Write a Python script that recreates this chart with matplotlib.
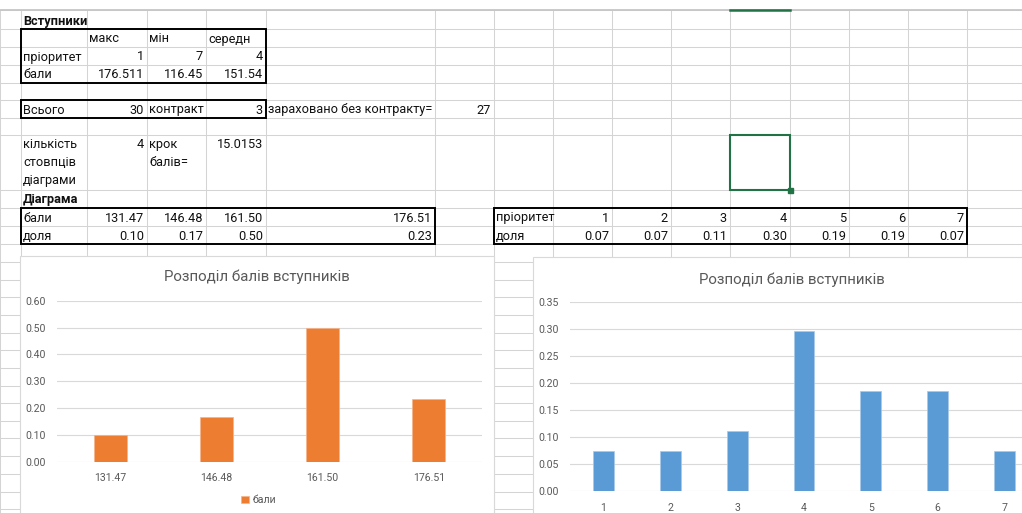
import matplotlib
matplotlib.use("Agg")
import matplotlib.pyplot as plt
from matplotlib.patches import Rectangle

plt.rcParams["font.family"] = ["Roboto", "DejaVu Sans"]

# ---- data ----
score_bins = ["131.47", "146.48", "161.50", "176.51"]
score_share = [0.10, 0.167, 0.50, 0.233]

priorities = [1, 2, 3, 4, 5, 6, 7]
priority_share = [0.074, 0.074, 0.111, 0.296, 0.1852, 0.1852, 0.074]

stat_names = ["макс", "мін", "середн"]
stat_priority = ["1", "7", "4"]
stat_scores = ["176.511", "116.45", "151.54"]

total_count = "30"
contract_count = "3"
budget_count = "27"
n_bins = "4"
bin_step = "15.0153"

CHART_TITLE = "Розподіл балів вступників"
ORANGE = "#ED7D31"
BLUE = "#5B9BD5"
AXIS_GREY = "#595959"
GRID_GREY = "#d9d9d9"

# ---- sheet layout (pixels) ----
W, H = 1022, 513
col_x = [0, 21, 87, 147, 206, 266, 435, 494, 553, 612, 671, 730, 790, 849, 908, 967, 1026]
row_y = [10, 29, 47, 65, 83, 100, 118, 135, 190, 208, 226, 244, 262, 280, 297, 315,
         333, 350, 368, 386, 403, 421, 438, 456, 474, 492, 509, 527]

fig = plt.figure(figsize=(W / 100, H / 100), dpi=100)
fig.patch.set_facecolor("white")

bg = fig.add_axes([0, 0, 1, 1])
bg.set_xlim(0, W)
bg.set_ylim(H, 0)
bg.axis("off")

# sheet gridlines
for x in col_x:
    bg.plot([x, x], [row_y[0], H], color="#d4d4d4", lw=0.75, zorder=1)
for y in row_y:
    bg.plot([0, W], [y, y], color="#d4d4d4", lw=0.75, zorder=1)
bg.plot([0, W], [row_y[0], row_y[0]], color="#c6c6c6", lw=1.3, zorder=1)

FS = 9.2


def cell(c, r, text, align="left", bold=False, line=0):
    if align == "left":
        x = col_x[c] + 2
    else:
        x = col_x[c + 1] - 3
    if line is None:
        y = row_y[r + 1] - 4.5
    else:
        y = row_y[r] + 13 + 18 * line
    bg.text(x, y, text, ha=align, va="baseline", fontsize=FS,
            fontweight="bold" if bold else "normal", color="#111111", zorder=3)


def box(c0, r0, c1, r1):
    bg.add_patch(Rectangle((col_x[c0], row_y[r0]), col_x[c1] - col_x[c0], row_y[r1] - row_y[r0],
                           fill=False, edgecolor="black", lw=1.4, zorder=4))


# input table
cell(1, 0, "Вступники", bold=True, line=None)
for i, name in enumerate(stat_names):
    cell(2 + i, 1, name, line=None)
    cell(2 + i, 2, stat_priority[i], align="right", line=None)
    cell(2 + i, 3, stat_scores[i], align="right", line=None)
cell(1, 2, "пріоритет", line=None)
cell(1, 3, "бали", line=None)
box(1, 1, 5, 4)

cell(1, 5, "Всього", line=None)
cell(2, 5, total_count, align="right", line=None)
cell(3, 5, "контракт", line=None)
cell(4, 5, contract_count, align="right", line=None)
cell(5, 5, "зараховано без контракту=", line=None)
cell(6, 5, budget_count, align="right", line=None)
box(1, 5, 5, 6)

for k, t in enumerate(["кількість", "стовпців", "діаграми"]):
    cell(1, 7, t, line=k)
cell(2, 7, n_bins, align="right", line=0)
cell(3, 7, "крок", line=0)
cell(3, 7, "балів=", line=1)
cell(4, 7, bin_step, align="right", line=0)

cell(1, 8, "Діаграма", bold=True, line=None)
cell(1, 9, "бали", line=None)
cell(1, 10, "доля", line=None)
for i, (b, s) in enumerate(zip(score_bins, score_share)):
    cell(2 + i, 9, b, align="right", line=None)
    cell(2 + i, 10, f"{s:.2f}", align="right", line=None)
box(1, 9, 6, 11)

cell(7, 9, "пріоритет", line=None)
cell(7, 10, "доля", line=None)
for i, (p, s) in enumerate(zip(priorities, priority_share)):
    cell(8 + i, 9, str(p), align="right", line=None)
    cell(8 + i, 10, f"{s:.2f}", align="right", line=None)
box(7, 9, 15, 11)

# selected cell
bg.add_patch(Rectangle((col_x[11], row_y[7]), col_x[12] - col_x[11], row_y[8] - row_y[7],
                       fill=False, edgecolor="#217346", lw=1.5, zorder=5))
bg.add_patch(Rectangle((col_x[12] - 2.5, row_y[8] - 2.5), 5, 5, color="#217346", zorder=6))
bg.plot([col_x[11], col_x[12]], [row_y[0], row_y[0]], color="#217346", lw=1.8, zorder=5)

# chart frames
bg.add_patch(Rectangle((20, 256), 474, 280, facecolor="white", edgecolor=GRID_GREY, lw=0.8, zorder=7))
bg.add_patch(Rectangle((533, 257), 520, 280, facecolor="white", edgecolor=GRID_GREY, lw=0.8, zorder=7))


def chart_axes(x0, x1, y0, y1):
    ax = fig.add_axes([x0 / W, 1 - y1 / H, (x1 - x0) / W, (y1 - y0) / H])
    ax.set_facecolor("none")
    for sp in ax.spines.values():
        sp.set_visible(False)
    ax.grid(axis="y", color=GRID_GREY, lw=0.8)
    ax.set_axisbelow(True)
    ax.tick_params(length=0, labelsize=7.6, labelcolor=AXIS_GREY)
    return ax


# chart 1: scores
ax1 = chart_axes(57, 482, 300.7, 462)
xs1 = range(len(score_bins))
ax1.bar(xs1, score_share, width=0.31, color=ORANGE, edgecolor="#f6b48a", lw=0.5, label="бали")
ax1.set_xlim(-0.5, len(score_bins) - 0.5)
ax1.set_ylim(0, 0.6)
ax1.set_yticks([0, 0.1, 0.2, 0.3, 0.4, 0.5, 0.6])
ax1.set_yticklabels([f"{v:.2f}" for v in ax1.get_yticks()])
ax1.set_xticks(list(xs1))
ax1.set_xticklabels(score_bins)
ax1.tick_params(axis="x", pad=8)
ax1.tick_params(axis="y", pad=8)
ax1.set_title(CHART_TITLE, fontsize=10.8, color=AXIS_GREY, x=0.47, pad=14)
ax1.legend(loc="center", bbox_to_anchor=(0.475, -0.236), frameon=False, fontsize=7.6,
           handlelength=0.7, handleheight=0.7, handletextpad=0.4, labelcolor=AXIS_GREY)

# chart 2: priorities
ax2 = chart_axes(570, 1038, 301.7, 490.7)
xs2 = range(len(priorities))
ax2.bar(xs2, priority_share, width=0.31, color=BLUE, edgecolor="#a9c9ea", lw=0.5)
ax2.set_xlim(-0.5, len(priorities) - 0.5)
ax2.set_ylim(0, 0.35)
ax2.set_yticks([0, 0.05, 0.1, 0.15, 0.2, 0.25, 0.3, 0.35])
ax2.set_yticklabels([f"{v:.2f}" for v in ax2.get_yticks()])
ax2.set_xticks(list(xs2))
ax2.set_xticklabels([str(p) for p in priorities])
ax2.tick_params(axis="x", pad=8.5)
ax2.tick_params(axis="y", pad=8)
ax2.set_title(CHART_TITLE, fontsize=10.8, color=AXIS_GREY, x=0.474, pad=13)

fig.savefig("out.png", dpi=100, facecolor="white")
